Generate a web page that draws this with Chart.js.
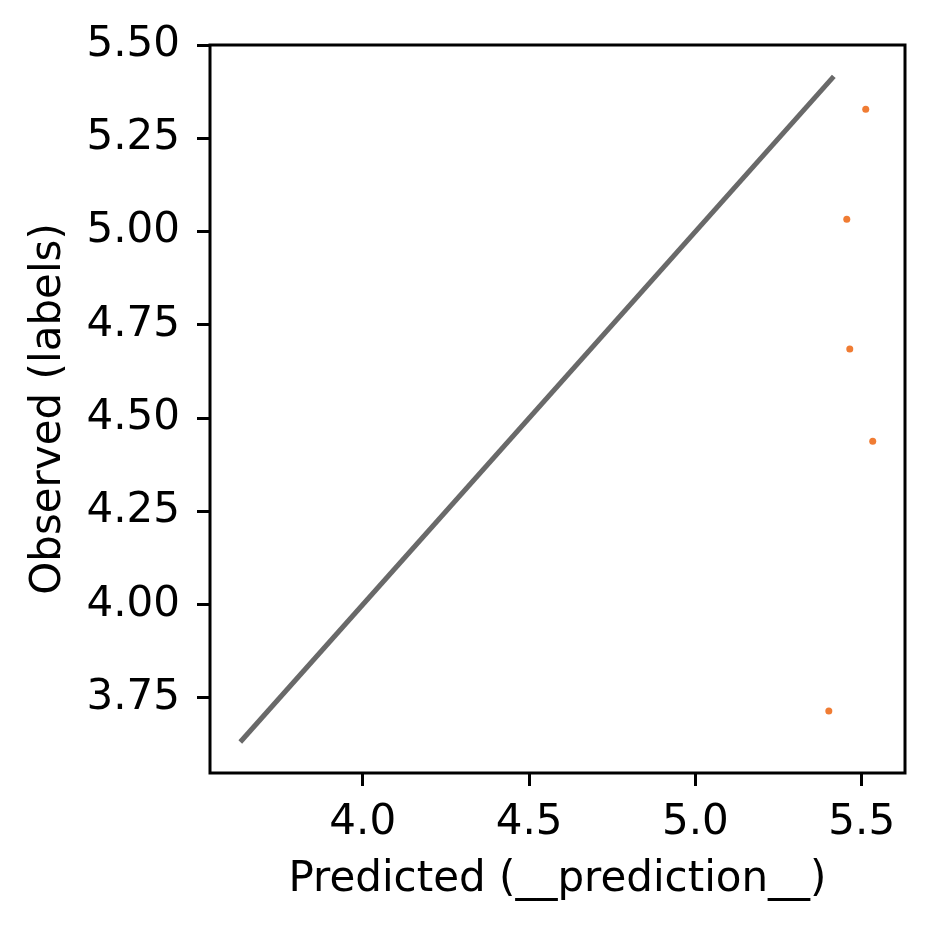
<!DOCTYPE html>
<html>
<head>
<meta charset="utf-8">
<script src="https://cdn.jsdelivr.net/npm/chart.js@4"></script>
<style>
  html, body { margin: 0; padding: 0; background: #fff; }
  #wrap { width: 934px; height: 934px; }
</style>
</head>
<body>
<div id="wrap"><canvas id="scatter"></canvas></div>
<script>
// values
const predicted = [5.512, 5.455, 5.464, 5.533, 5.401]
const observed = [5.328, 5.033, 4.685, 4.438, 3.715]
const diagonal = [3.632, 5.416]
const xTicks = [4.0, 4.5, 5.0, 5.5]
const yTicks = [3.75, 4.0, 4.25, 4.5, 4.75, 5.0, 5.25, 5.5]

const FONT = 'DejaVu Sans'
const FS = 42

const points = predicted.map((x, i) => ({ x: x, y: observed[i] }))
const line = diagonal.map(v => ({ x: v, y: v }))

// box round the plot area, like matplotlib spines
const frame = {
  id: 'frame',
  afterDatasetsDraw(chart) {
    const a = chart.chartArea
    const c = chart.ctx
    c.save()
    c.strokeStyle = '#000'
    c.lineWidth = 3
    c.strokeRect(a.left, a.top, a.right - a.left, a.bottom - a.top)
    c.restore()
  },
}

const fixTicks = list => scale => {
  scale.ticks = list.map(v => ({ value: v }))
}

const ctx = document.getElementById('scatter').getContext('2d')
new Chart(ctx, {
  type: 'scatter',
  data: {
    datasets: [
      {
        type: 'line',
        data: line,
        borderColor: '#696969',
        borderWidth: 5,
        pointRadius: 0,
        fill: false,
        order: 2,
      },
      {
        data: points,
        backgroundColor: '#f07c33',
        borderWidth: 0,
        pointRadius: 3.5,
        order: 1,
      },
    ],
  },
  options: {
    responsive: true,
    maintainAspectRatio: false,
    animation: false,
    layout: { padding: { top: 45, right: 29, left: 0, bottom: 0 } },
    plugins: {
      legend: { display: false },
      tooltip: { enabled: false },
    },
    scales: {
      x: {
        type: 'linear',
        min: 3.541,
        max: 5.630,
        afterBuildTicks: fixTicks(xTicks),
        afterFit: s => { s.height = 161 },
        border: { display: false },
        grid: { drawOnChartArea: false, tickLength: 13, tickWidth: 3, tickColor: '#000' },
        ticks: {
          color: '#000',
          padding: 12,
          font: { family: FONT, size: FS },
          callback: v => v.toFixed(1),
        },
        title: {
          display: true,
          text: 'Predicted (__prediction__)',
          color: '#000',
          font: { family: FONT, size: FS },
          padding: { top: 0, bottom: 29 },
        },
      },
      y: {
        type: 'linear',
        min: 3.549,
        max: 5.5,
        afterBuildTicks: fixTicks(yTicks),
        afterFit: s => { s.width = 210 },
        border: { display: false },
        grid: { drawOnChartArea: false, tickLength: 13, tickWidth: 3, tickColor: '#000' },
        ticks: {
          color: '#000',
          padding: 17,
          font: { family: FONT, size: FS },
          callback: v => v.toFixed(2),
        },
        title: {
          display: true,
          text: 'Observed (labels)',
          color: '#000',
          font: { family: FONT, size: FS },
          padding: { top: 24, bottom: 0 },
        },
      },
    },
  },
  plugins: [frame],
})
</script>
</body>
</html>
